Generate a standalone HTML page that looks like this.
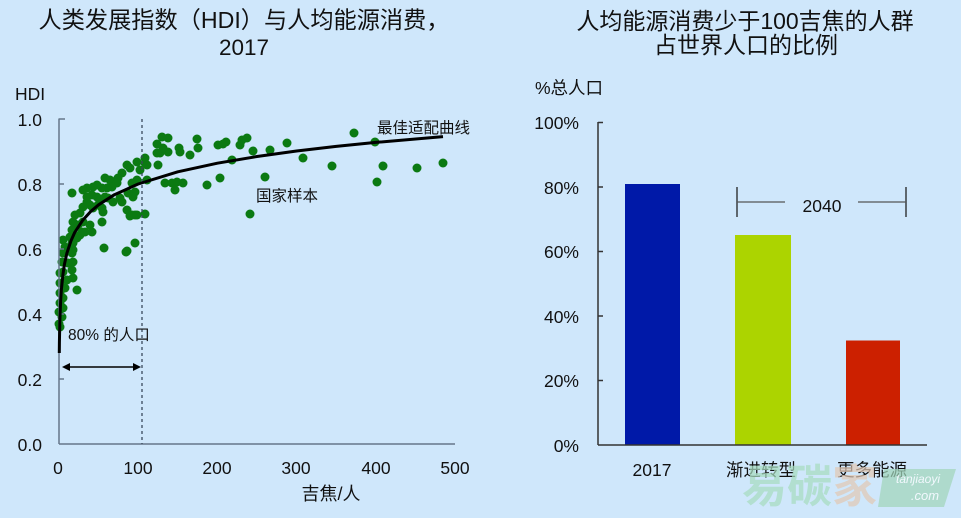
<!DOCTYPE html>
<html><head><meta charset="utf-8"><style>
html,body{margin:0;padding:0;background:#cfe7fb;}
svg{display:block;font-family:"Liberation Sans","Noto Sans CJK SC",sans-serif;}
</style></head><body>
<svg width="961" height="518" viewBox="0 0 961 518" xmlns="http://www.w3.org/2000/svg">
<rect x="0" y="0" width="961" height="518" fill="#cfe7fb"/>
<!-- Left title -->
<text x="244" y="28" font-size="23.2" text-anchor="middle" fill="#111">人类发展指数（HDI）与人均能源消费，</text>
<text x="244" y="55" font-size="22.5" text-anchor="middle" fill="#111">2017</text>
<!-- Right title -->
<text x="745" y="29" font-size="23" text-anchor="middle" fill="#111">人均能源消费少于100吉焦的人群</text>
<text x="746" y="53" font-size="23" text-anchor="middle" fill="#111">占世界人口的比例</text>

<!-- Left chart -->
<text x="15" y="100" font-size="17.5" fill="#111">HDI</text>
<g font-size="17.5" fill="#111" text-anchor="end">
<text x="42" y="126">1.0</text>
<text x="42" y="191">0.8</text>
<text x="42" y="256">0.6</text>
<text x="42" y="321">0.4</text>
<text x="42" y="386">0.2</text>
<text x="42" y="451">0.0</text>
</g>
<g font-size="17.5" fill="#111" text-anchor="middle">
<text x="58" y="474">0</text>
<text x="138" y="474">100</text>
<text x="217" y="474">200</text>
<text x="296" y="474">300</text>
<text x="376" y="474">400</text>
<text x="455" y="474">500</text>
</g>
<text x="331" y="500" font-size="18" text-anchor="middle" fill="#111">吉焦/人</text>

<g fill="#0b7a12">
<circle cx="157" cy="144" r="4.5"/><circle cx="162" cy="137" r="4.5"/><circle cx="168" cy="138" r="4.5"/><circle cx="160" cy="153" r="4.5"/><circle cx="168" cy="152" r="4.5"/><circle cx="163" cy="148" r="4.5"/><circle cx="179" cy="148" r="4.5"/><circle cx="180" cy="152" r="4.5"/><circle cx="190" cy="155" r="4.5"/><circle cx="197" cy="139" r="4.5"/><circle cx="198" cy="148" r="4.5"/><circle cx="218" cy="145" r="4.5"/><circle cx="226" cy="142" r="4.5"/><circle cx="223" cy="144" r="4.5"/><circle cx="240" cy="145" r="4.5"/><circle cx="242" cy="140" r="4.5"/><circle cx="247" cy="138" r="4.5"/><circle cx="253" cy="151" r="4.5"/><circle cx="270" cy="150" r="4.5"/><circle cx="232" cy="160" r="4.5"/><circle cx="158" cy="165" r="4.5"/><circle cx="145" cy="158" r="4.5"/><circle cx="145" cy="163" r="4.5"/><circle cx="147" cy="180" r="4.5"/><circle cx="165" cy="183" r="4.5"/><circle cx="172" cy="183" r="4.5"/><circle cx="177" cy="182" r="4.5"/><circle cx="183" cy="183" r="4.5"/><circle cx="175" cy="190" r="4.5"/><circle cx="207" cy="185" r="4.5"/><circle cx="220" cy="178" r="4.5"/><circle cx="265" cy="177" r="4.5"/><circle cx="250" cy="214" r="4.5"/><circle cx="145" cy="214" r="4.5"/><circle cx="287" cy="143" r="4.5"/><circle cx="303" cy="158" r="4.5"/><circle cx="332" cy="166" r="4.5"/><circle cx="354" cy="133" r="4.5"/><circle cx="375" cy="142" r="4.5"/><circle cx="383" cy="166" r="4.5"/><circle cx="377" cy="182" r="4.5"/><circle cx="417" cy="168" r="4.5"/><circle cx="443" cy="163" r="4.5"/><circle cx="157" cy="153" r="4.5"/><circle cx="135" cy="215" r="4.5"/><circle cx="130" cy="216" r="4.5"/><circle cx="127" cy="210" r="4.5"/><circle cx="135" cy="243" r="4.5"/><circle cx="126" cy="252" r="4.5"/><circle cx="104" cy="248" r="4.5"/><circle cx="77" cy="290" r="4.5"/><circle cx="72" cy="193" r="4.5"/>
<circle cx="147" cy="165" r="4.5"/><circle cx="137" cy="162" r="4.5"/><circle cx="140" cy="170" r="4.5"/><circle cx="127" cy="165" r="4.5"/><circle cx="130" cy="168" r="4.5"/><circle cx="122" cy="173" r="4.5"/><circle cx="118" cy="178" r="4.5"/><circle cx="110" cy="180" r="4.5"/><circle cx="105" cy="178" r="4.5"/><circle cx="137" cy="180" r="4.5"/><circle cx="132" cy="183" r="4.5"/><circle cx="135" cy="192" r="4.5"/><circle cx="133" cy="197" r="4.5"/><circle cx="128" cy="193" r="4.5"/><circle cx="117" cy="183" r="4.5"/><circle cx="112" cy="187" r="4.5"/><circle cx="107" cy="188" r="4.5"/><circle cx="102" cy="188" r="4.5"/><circle cx="97" cy="185" r="4.5"/><circle cx="93" cy="187" r="4.5"/><circle cx="87" cy="188" r="4.5"/><circle cx="83" cy="190" r="4.5"/><circle cx="87" cy="197" r="4.5"/><circle cx="92" cy="195" r="4.5"/><circle cx="97" cy="197" r="4.5"/><circle cx="100" cy="200" r="4.5"/><circle cx="105" cy="197" r="4.5"/><circle cx="108" cy="198" r="4.5"/><circle cx="120" cy="198" r="4.5"/><circle cx="122" cy="202" r="4.5"/><circle cx="113" cy="202" r="4.5"/><circle cx="87" cy="202" r="4.5"/><circle cx="90" cy="205" r="4.5"/><circle cx="83" cy="207" r="4.5"/><circle cx="93" cy="208" r="4.5"/><circle cx="98" cy="205" r="4.5"/><circle cx="102" cy="208" r="4.5"/><circle cx="103" cy="212" r="4.5"/><circle cx="132" cy="215" r="4.5"/><circle cx="137" cy="215" r="4.5"/><circle cx="75" cy="215" r="4.5"/><circle cx="80" cy="213" r="4.5"/><circle cx="73" cy="222" r="4.5"/><circle cx="78" cy="225" r="4.5"/><circle cx="83" cy="222" r="4.5"/><circle cx="90" cy="225" r="4.5"/><circle cx="92" cy="232" r="4.5"/><circle cx="85" cy="232" r="4.5"/><circle cx="102" cy="222" r="4.5"/><circle cx="72" cy="230" r="4.5"/><circle cx="70" cy="237" r="4.5"/><circle cx="77" cy="238" r="4.5"/><circle cx="80" cy="235" r="4.5"/><circle cx="63" cy="240" r="4.5"/><circle cx="65" cy="247" r="4.5"/><circle cx="73" cy="243" r="4.5"/><circle cx="73" cy="250" r="4.5"/><circle cx="127" cy="251" r="4.5"/>
<circle cx="82" cy="232" r="4.5"/><circle cx="75" cy="237" r="4.5"/><circle cx="72" cy="243" r="4.5"/><circle cx="63" cy="253" r="4.5"/><circle cx="72" cy="253" r="4.5"/><circle cx="73" cy="262" r="4.5"/><circle cx="68" cy="263" r="4.5"/><circle cx="62" cy="262" r="4.5"/><circle cx="72" cy="270" r="4.5"/><circle cx="63" cy="272" r="4.5"/><circle cx="60" cy="273" r="4.5"/><circle cx="73" cy="278" r="4.5"/><circle cx="67" cy="280" r="4.5"/><circle cx="60" cy="283" r="4.5"/><circle cx="65" cy="288" r="4.5"/><circle cx="60" cy="293" r="4.5"/><circle cx="63" cy="298" r="4.5"/><circle cx="60" cy="303" r="4.5"/><circle cx="63" cy="308" r="4.5"/><circle cx="59" cy="312" r="4.5"/><circle cx="62" cy="317" r="4.5"/><circle cx="60" cy="327" r="4.5"/><circle cx="59" cy="324" r="4.5"/>
</g>

<!-- axes left -->
<g stroke="#66778a" stroke-width="1.5" fill="none">
<line x1="59" y1="118.5" x2="59" y2="444"/>
<line x1="59" y1="444" x2="455" y2="444"/>
<line x1="59" y1="119" x2="65" y2="119"/>
<line x1="59" y1="184" x2="64" y2="184"/>
<line x1="59" y1="249" x2="64" y2="249"/>
<line x1="59" y1="314" x2="64" y2="314"/>
<line x1="59" y1="379" x2="64" y2="379"/>
</g>
<line x1="142" y1="119" x2="142" y2="444" stroke="#3a4a5c" stroke-width="1.3" stroke-dasharray="3,3"/>

<!-- fitted curve -->
<path d="M59.3,353 L59.4,343.1 L59.8,322.3 L60.6,301.5 L61.4,289.3 L63,274 L64.5,263.9 L66.9,253.1 L70.9,241 L74.8,232.3 L82.8,220.1 L90.7,211.5 L98.6,204.8 L114.4,194.7 L138.2,184 L177.8,171.8 L217.4,163.2 L257,156.5 L296.6,151 L336.2,146.4 L375.8,142.4 L443,136.6" fill="none" stroke="#000" stroke-width="3" stroke-linejoin="round"/>

<text x="377" y="133" font-size="15.5" fill="#111">最佳适配曲线</text>
<text x="256" y="201" font-size="15.5" fill="#111">国家样本</text>
<text x="68" y="340" font-size="15.5" fill="#111">80% 的人口</text>
<!-- arrow -->
<line x1="66" y1="367" x2="137" y2="367" stroke="#000" stroke-width="1.5"/>
<polygon points="62,367 70,363 70,371" fill="#000"/>
<polygon points="141,367 133,363 133,371" fill="#000"/>

<!-- Right chart -->
<text x="535" y="94" font-size="17.5" fill="#111">%总人口</text>
<g font-size="17.5" fill="#111" text-anchor="end">
<text x="579" y="129">100%</text>
<text x="579" y="194">80%</text>
<text x="579" y="258">60%</text>
<text x="579" y="323">40%</text>
<text x="579" y="387">20%</text>
<text x="579" y="452">0%</text>
</g>
<rect x="625" y="184" width="55" height="261" fill="#0019a8"/>
<rect x="735" y="235" width="56" height="210" fill="#acd400"/>
<rect x="846" y="340.5" width="54" height="104.5" fill="#cc2000"/>
<g stroke="#333" stroke-width="1.5" fill="none">
<line x1="598" y1="122" x2="598" y2="445"/>
<line x1="598" y1="445" x2="927" y2="445"/>
<line x1="598" y1="122.5" x2="603" y2="122.5"/>
<line x1="598" y1="187" x2="603" y2="187"/>
<line x1="598" y1="251.5" x2="603" y2="251.5"/>
<line x1="598" y1="316" x2="603" y2="316"/>
<line x1="598" y1="380.5" x2="603" y2="380.5"/>
</g>
<g stroke="#222" stroke-width="1.3">
<line x1="737" y1="187" x2="737" y2="217"/>
<line x1="906" y1="187" x2="906" y2="217"/>
<line x1="737" y1="202" x2="785" y2="202" stroke="#555"/>
<line x1="858" y1="202" x2="906" y2="202" stroke="#555"/>
</g>
<text x="822" y="212" font-size="17.5" text-anchor="middle" fill="#111">2040</text>
<g font-size="17.5" fill="#111" text-anchor="middle">
<text x="652" y="476">2017</text>
<text x="761" y="476">渐进转型</text>
<text x="872" y="476">更多能源</text>
</g>

<!-- watermark -->
<g opacity="0.72">
<polygon points="884,469 956,469 944,507 878,507" fill="#a2d6bb"/>
<text x="918" y="483" font-size="12" font-style="italic" fill="#fff" text-anchor="middle">tanjiaoyi</text>
<text x="925" y="500" font-size="13" font-style="italic" fill="#fff" text-anchor="middle">.com</text>
<text x="742" y="502" font-size="45" font-weight="bold" fill="#a8dcc0" font-family="Noto Sans CJK SC, sans-serif">易碳</text>
<text x="832" y="502" font-size="45" font-weight="bold" fill="#e2c9b5" font-family="Noto Sans CJK SC, sans-serif">家</text>
</g>
</svg>
</body></html>
